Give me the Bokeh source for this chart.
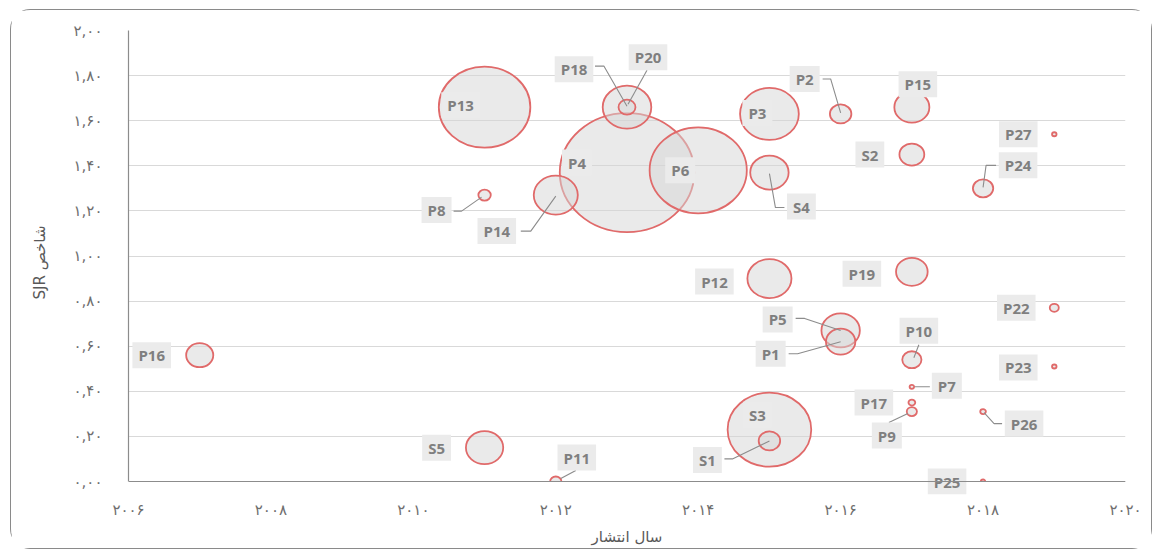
from bokeh.plotting import figure
from bokeh.models import FixedTicker, ColumnDataSource, Label, Span, BoxAnnotation
from bokeh.embed import file_html
from bokeh.resources import INLINE

# ---------------- data ----------------
names = ["P1", "P2", "P3", "P4", "P5", "P6", "P7", "P8", "P9", "P10",
         "P11", "P12", "P13", "P14", "P15", "P16", "P17", "P18", "P19", "P20",
         "P22", "P23", "P24", "P25", "P26", "P27",
         "S1", "S2", "S3", "S4", "S5"]
years = [2016, 2016, 2015, 2013, 2016, 2014, 2017, 2011, 2017, 2017,
         2012, 2015, 2011, 2012, 2017, 2007, 2017, 2013, 2017, 2013,
         2019, 2019, 2018, 2018, 2018, 2019,
         2015, 2017, 2015, 2015, 2011]
sjr = [0.62, 1.63, 1.63, 1.37, 0.67, 1.38, 0.42, 1.27, 0.31, 0.54,
       0.00, 0.90, 1.66, 1.27, 1.66, 0.56, 0.35, 1.66, 0.93, 1.66,
       0.77, 0.51, 1.30, 0.00, 0.31, 1.54,
       0.18, 1.45, 0.23, 1.37, 0.15]
bubble_size = [26, 19, 52, 119, 34, 86, 4, 11, 9, 17,
               10, 39, 81, 39, 31, 24, 6, 15, 28, 43,
               8, 4, 18, 4, 5, 4,
               19, 22, 74, 34, 33]

x_ticks = [2006, 2008, 2010, 2012, 2014, 2016, 2018, 2020]
x_tick_labels = ["۲۰۰۶", "۲۰۰۸", "۲۰۱۰", "۲۰۱۲", "۲۰۱۴", "۲۰۱۶", "۲۰۱۸", "۲۰۲۰"]
y_ticks = [0.0, 0.2, 0.4, 0.6, 0.8, 1.0, 1.2, 1.4, 1.6, 1.8, 2.0]
y_tick_labels = ["۰,۰۰", "۰,۲۰", "۰,۴۰", "۰,۶۰", "۰,۸۰", "۱,۰۰",
                 "۱,۲۰", "۱,۴۰", "۱,۶۰", "۱,۸۰", "۲,۰۰"]

x_title = "سال انتشار"
y_title = "SJR شاخص"   # visual (right-to-left) order of «شاخص SJR»

# ---------------- layout (pixel offsets of label boxes / leader lines) ----------------
X0, X1, Y0, Y1 = 2006, 2020, 0.0, 2.0
FW, FH = 997, 451
PX = (X1 - X0) / FW
PY = (Y1 - Y0) / FH
EXT = 13                      # extra frame pixels below the zero line (room for labels)
Y_LOW = Y0 - EXT * PY

label_layout = {
    "P1": (-70, 12, [(-52, 12), (-43, 12), (0, 0)]),
    "P2": (-36, -35, [(-18, -35), (-10, -35), (0, -1)]),
    "P3": (-12, -1, None),
    "P4": (-50, -10, None),
    "P5": (-63, -11, [(-45, -12), (-36, -12), (0, 0)]),
    "P6": (-18, 0, None),
    "P7": (35, -1, [(18, 0), (3, 0)]),
    "P8": (-48, 15, [(-31, 16), (-23, 16), (-3, 2)]),
    "P9": (-25, 24, [(-23, 11), (-4, 2)]),
    "P10": (7, -29, [(7, -15), (2, -2)]),
    "P11": (21, -24, [(20, -11), (5, -3)]),
    "P12": (-55, 3, None),
    "P13": (-24, -2, None),
    "P14": (-59, 36, [(-35, 36), (-25, 36), (0, 1)]),
    "P15": (6, -23, None),
    "P16": (-48, 0, None),
    "P17": (-38, 0, None),
    "P18": (-53, -38, [(-32, -41), (-23, -41), (0, -1)]),
    "P19": (-50, 2, None),
    "P20": (21, -50, [(20, -37), (1, -3)]),
    "P22": (-38, 0, None),
    "P23": (-36, 1, None),
    "P24": (35, -23, [(13, -23), (3, -23), (0, -1)]),
    "P25": (-36, 0, None),
    "P26": (41, 12, [(19, 12), (11, 12), (1, 1)]),
    "P27": (-36, 0, None),
    "S1": (-62, 19, [(-45, 18), (-37, 18), (0, 0)]),
    "S2": (-42, 0, None),
    "S3": (-12, -15, None),
    "S4": (32, 34, [(15, 35), (6, 35), (0, 1)]),
    "S5": (-48, 0, None),
}

p = figure(output_backend="svg", toolbar_location=None,
           x_range=(X0, X1), y_range=(Y_LOW, Y1),
           frame_width=FW, frame_height=FH + EXT,
           min_border_left=117, min_border_right=26,
           min_border_top=20, min_border_bottom=64 - EXT)
p.styles = {"border": "1.5px solid #8a8a8a", "border-radius": "20px",
            "margin-left": "10px", "margin-top": "9px"}
p.outline_line_color = None
p.background_fill_color = "white"

# axes
p.xaxis.ticker = FixedTicker(ticks=x_ticks)
p.xaxis.major_label_overrides = {t: l for t, l in zip(x_ticks, x_tick_labels)}
p.yaxis.ticker = FixedTicker(ticks=y_ticks)
p.yaxis.major_label_overrides = {t: l for t, l in zip(y_ticks, y_tick_labels)}
for ax in (p.xaxis, p.yaxis):
    ax.axis_line_color = "#8c8c8c"
    ax.axis_line_width = 1.2
    ax.major_tick_line_color = None
    ax.minor_tick_line_color = None
    ax.major_label_text_color = "#6e6e6e"
    ax.major_label_text_font = "DejaVu Sans"
    ax.major_label_text_font_size = "15px"
    ax.axis_label_text_color = "#595959"
    ax.axis_label_text_font = "DejaVu Sans"
    ax.axis_label_text_font_size = "15px"
    ax.axis_label_text_font_style = "normal"
p.xaxis.axis_line_color = None
p.yaxis.bounds = (Y0, Y1)
p.xaxis.axis_label = x_title
p.yaxis.axis_label = y_title
p.xaxis.major_label_standoff = 0
p.yaxis.major_label_standoff = 20
p.xaxis.axis_label_standoff = 6
p.yaxis.axis_label_standoff = 22

p.xgrid.grid_line_color = None
p.ygrid.ticker = FixedTicker(ticks=y_ticks)
p.ygrid.grid_line_color = "#d9d9d9"
p.ygrid.grid_line_width = 1.2

# bubbles (largest first)
order = sorted(range(len(names)), key=lambda i: -bubble_size[i])
src = ColumnDataSource(dict(
    x=[years[i] for i in order],
    y=[sjr[i] for i in order],
    w=[bubble_size[i] * 1.13 for i in order],
    h=[bubble_size[i] for i in order],
))
p.ellipse(x="x", y="y", width="w", height="h", source=src,
          width_units="screen", height_units="screen",
          fill_color="#d6d6d6", fill_alpha=0.5,
          line_color="#e06a6a", line_width=1.8)

# leader lines
lx, ly = [], []
for i, n in enumerate(names):
    dx, dy, pts = label_layout[n]
    if pts:
        lx.append([years[i] + a * PX for a, b in pts])
        ly.append([sjr[i] - b * PY for a, b in pts])
p.multi_line(xs=lx, ys=ly, line_color="#8c8c8c", line_width=1.1)

# hide marks below the zero line (plot area ends there)
p.add_layout(BoxAnnotation(top=Y0, bottom=Y_LOW, left=X0, right=X1,
                           fill_color="white", fill_alpha=1.0,
                           line_color=None, level="annotation"))

# label boxes + text
for i, n in enumerate(names):
    dx, dy, pts = label_layout[n]
    p.add_layout(Label(x=years[i], y=sjr[i], x_offset=dx, y_offset=-dy,
                       text=n, text_font="Open Sans",
                       text_font_style="bold", text_font_size="15px",
                       text_color="#7f7f7f", text_align="center",
                       text_baseline="middle",
                       background_fill_color="#ebebeb",
                       border_line_color=None, level="overlay",
                       padding=dict(left=6, right=6, top=3, bottom=3)))

# horizontal axis line at zero, drawn on top
p.add_layout(Span(location=Y0, dimension="width", line_color="#8c8c8c",
                  line_width=1.2, level="overlay"))

open("out.html", "w").write(file_html(p, INLINE))
